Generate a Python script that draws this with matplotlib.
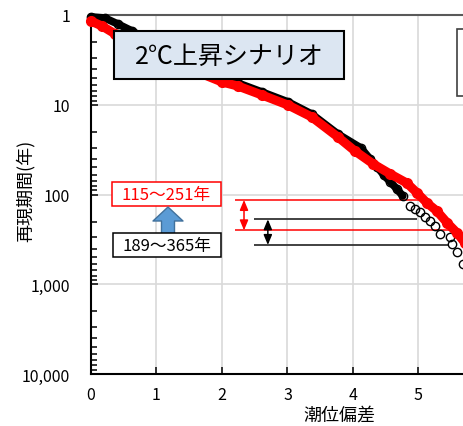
import matplotlib
matplotlib.use("Agg")
import matplotlib.pyplot as plt
from matplotlib.patches import Rectangle, FancyArrowPatch
from matplotlib.ticker import FixedLocator, FuncFormatter, LogLocator, NullFormatter

plt.rcParams['font.family'] = ['Noto Sans CJK JP', 'DejaVu Sans']

# 現在気候（黒、白抜き丸）：潮位偏差 と 再現期間(年)
black_x = [0.00, 0.21, 0.41, 0.63, 1.05, 1.50, 2.00, 2.24, 2.61, 3.01, 3.37, 3.77, 4.12,
           4.26, 4.37, 4.47, 4.57, 4.67, 4.76, 4.87, 4.95, 5.02, 5.10, 5.18, 5.25,
           5.33, 5.48, 5.51, 5.59, 5.68]
black_T = [1.05, 1.08, 1.26, 1.51, 2.3, 3.4, 5.17, 5.72, 7.21, 9.31, 12.7, 21.2, 30.3,
           40.2, 49.4, 60.6, 72.6, 86.8, 103.9, 134.3, 145.1, 156.7, 178.1, 197.3, 224.4,
           275.5, 297.5, 356.0, 437.1, 594.8]

# 2℃上昇シナリオ（赤、塗りつぶし丸）
red_x = [0.00, 0.17, 0.37, 0.75, 1.13, 1.51, 2.00, 2.24, 2.61, 3.01, 3.37, 3.77, 4.03,
         4.31, 4.57, 4.82, 4.98, 5.13, 5.28, 5.44, 5.59, 5.71]
red_T = [1.17, 1.33, 1.63, 2.27, 3.09, 4.0, 5.58, 6.18, 7.79, 10.1, 13.7, 22.9, 32.8,
         45.7, 59.1, 74.4, 96.2, 124.4, 152.7, 207.7, 268.5, 347.0]

x_ticks = [0, 1, 2, 3, 4, 5, 6, 7]
y_ticks = [1, 10, 100, 1000, 10000]

# 再現期間の幅（年）
red_range = (115, 251)
black_range = (189, 365)

W, H = 464, 427
fig = plt.figure(figsize=(W / 100, H / 100), dpi=100)


def px(x, y):
    return (x / W, 1 - y / H)


ax = fig.add_axes([91 / W, (H - 375) / H, 7.6 * 65.5 / W, (375 - 16) / H])
ax.set_yscale('log')
ax.set_xlim(0, 7.6)
ax.set_ylim(10000, 1)

ax.grid(True, which='major', color='#d9d9d9', lw=1.2, zorder=0)
ax.set_axisbelow(True)

ax.xaxis.set_major_locator(FixedLocator(x_ticks))
ax.xaxis.set_major_formatter(FuncFormatter(lambda v, p: f"{v:.0f}" if v <= 5 else ""))
ax.yaxis.set_major_locator(FixedLocator(y_ticks))
ax.yaxis.set_minor_locator(LogLocator(base=10, subs=range(2, 10)))
ax.yaxis.set_minor_formatter(NullFormatter())
ax.yaxis.set_major_formatter(FuncFormatter(lambda v, p: f"{v:,.0f}"))

ax.tick_params(axis='both', which='major', direction='in', length=5, width=1.1,
               labelsize=11.5, colors='black')
ax.tick_params(axis='y', which='minor', direction='in', length=4.5, width=1.1)
ax.tick_params(axis='y', which='major', pad=15)
ax.tick_params(axis='x', which='major', pad=9)

for s in ['left', 'bottom']:
    ax.spines[s].set_color('black')
    ax.spines[s].set_linewidth(1.5)
ax.spines['top'].set_color('#595959')
ax.spines['top'].set_linewidth(1.5)

ax.set_xlabel('潮位偏差', fontsize=13)
ax.xaxis.set_label_coords(0.5, -0.087)
ax.set_ylabel('再現期間(年)', fontsize=13)
ax.yaxis.set_label_coords(-0.112, 0.512)

# 再現期間の範囲を示す水平線
ax.hlines(red_range, 2.2, [5.10, 5.50], colors='red', lw=1.1, zorder=2)
ax.hlines(black_range, 2.49, [4.98, 5.45], colors='#333333', lw=1.3, zorder=2)

ax.annotate('', xy=(2.336, red_range[1]), xytext=(2.336, red_range[0]),
            arrowprops=dict(arrowstyle='<|-|>,head_length=0.6,head_width=0.25',
                            color='red', lw=1.1, shrinkA=0, shrinkB=0, mutation_scale=10))
ax.annotate('', xy=(2.70, black_range[1]), xytext=(2.70, black_range[0]),
            arrowprops=dict(arrowstyle='<|-|>,head_length=0.6,head_width=0.25',
                            color='black', lw=1.1, shrinkA=0, shrinkB=0, mutation_scale=10))

# 黒：密な部分は太線で、裾は白抜き丸で
n_dense = 19
ax.plot(black_x[:n_dense], black_T[:n_dense], color='black', lw=5.5,
        solid_capstyle='round', zorder=3, clip_on=False)
ax.plot(black_x, black_T, ls='none', marker='o', ms=6, mfc='none', mec='black',
        mew=1.0, zorder=3, clip_on=False)

# 赤
ax.plot(red_x, red_T, color='red', lw=6.5, solid_capstyle='round', zorder=4, clip_on=False)
ax.plot(red_x, red_T, ls='none', marker='o', ms=7, color='red', zorder=4, clip_on=False)

# タイトル枠
fig.add_artist(Rectangle(px(114, 80), 230 / W, 48 / H, transform=fig.transFigure,
                         fc='#dce6f2', ec='black', lw=1.5, zorder=5))
fig.text(*px(229, 57), '2℃上昇シナリオ', fontsize=18, ha='center', va='center', zorder=6)

# 凡例枠（右側）
fig.add_artist(Rectangle(px(457, 97), 40 / W, 67 / H, transform=fig.transFigure,
                         fc='white', ec='#404040', lw=1.2, zorder=5))

# 範囲ラベル
fig.add_artist(Rectangle(px(112, 207), 109 / W, 24 / H, transform=fig.transFigure,
                         fc='white', ec='red', lw=1.1, zorder=5))
fig.text(*px(166.5, 195.5), f'{red_range[0]}～{red_range[1]}年', color='red',
         fontsize=12, ha='center', va='center', zorder=6)

fig.add_artist(FancyArrowPatch(px(168, 235), px(168, 208), transform=fig.transFigure,
                               arrowstyle='simple,head_length=0.56,head_width=1.2,tail_width=0.52',
                               mutation_scale=18, fc='#5b9bd5', ec='#41719c', lw=1,
                               shrinkA=0, shrinkB=0, zorder=5))

fig.add_artist(Rectangle(px(113, 258), 108 / W, 24 / H, transform=fig.transFigure,
                         fc='white', ec='black', lw=1.1, zorder=5))
fig.text(*px(167, 246.5), f'{black_range[0]}～{black_range[1]}年', color='black',
         fontsize=12, ha='center', va='center', zorder=6)

fig.savefig('out.png', dpi=100)
